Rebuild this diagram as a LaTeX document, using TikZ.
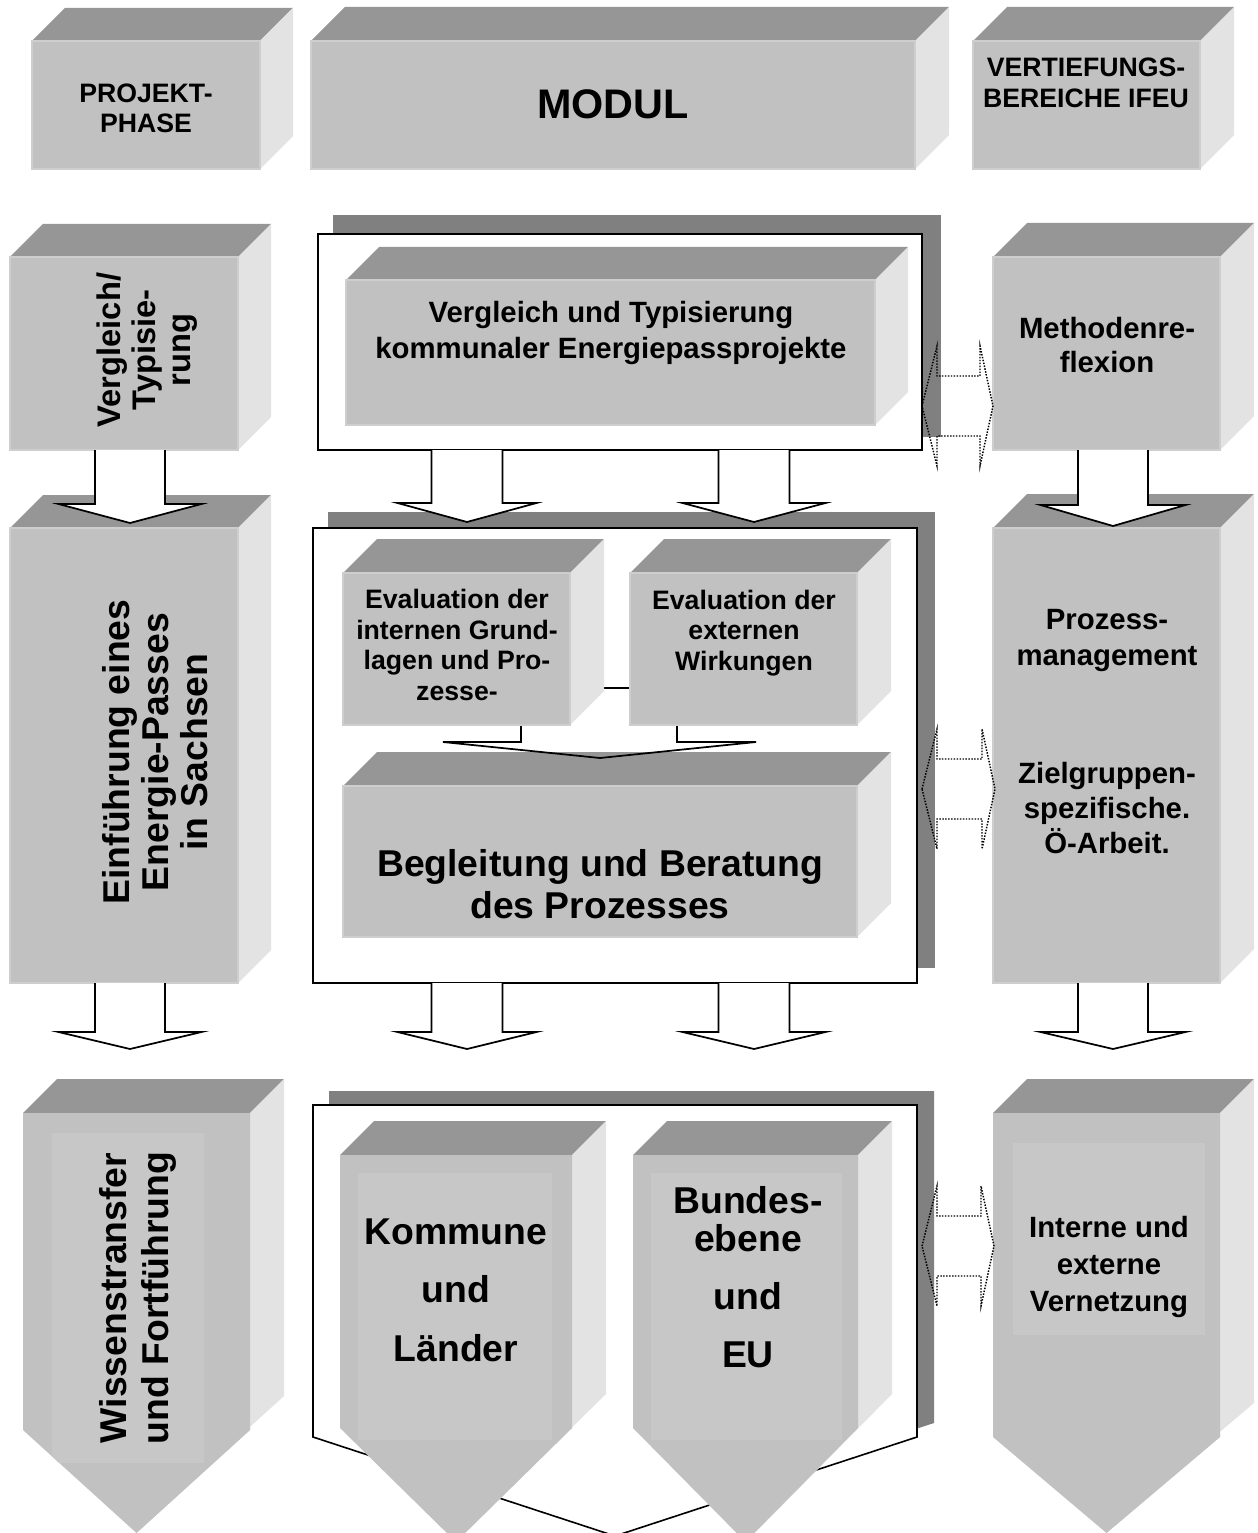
\documentclass[tikz,border=0pt]{standalone}
\usepackage{fontspec}
\setmainfont{Liberation Sans}
\usetikzlibrary{calc,fit}

\definecolor{facefront}{RGB}{193,193,193}
\definecolor{facetop}{RGB}{150,150,150}
\definecolor{faceside}{RGB}{227,227,227}
\definecolor{faceedge}{RGB}{206,206,206}
\definecolor{panelshadow}{RGB}{128,128,128}
\definecolor{panelinner}{RGB}{199,199,199}

\newcommand{\labelfont}[2]{\fontsize{#1}{#2}\selectfont\bfseries}

\tikzset{
  topface/.style={fill=facetop},
  sideface/.style={fill=faceside},
  frontface/.style={fill=facefront, draw=faceedge, line width=1.5pt, inner sep=0pt, outer sep=0pt},
  caption/.style={align=center, inner sep=0pt, text=black},
  whiteframe/.style={fill=white, draw=black, line width=1.2pt, inner sep=0pt, outer sep=0pt},
  frameshade/.style={fill=panelshadow},
  blockarrow/.style={fill=white, draw=black, line width=1.3pt, line join=miter},
  mergearrow/.style={draw=black, line width=1.3pt, line join=miter},
  exchange/.style={draw=black, line width=1.1pt, dash pattern=on 1.1pt off 1.1pt},
}

% rectangular 3D block: name, x1, y1, x2, y2 (front face), depth
\newcommand{\cubebox}[6]{%
  \fill[topface] (#2,#3) -- (#2+#6,#3-#6) -- (#4+#6,#3-#6) -- (#4,#3) -- cycle;
  \fill[sideface] (#4,#3) -- (#4+#6,#3-#6) -- (#4+#6,#5-#6) -- (#4,#5) -- cycle;
  \node[frontface, fit={(#2,#3) (#4,#5)}] (#1) {};
}

% 3D block with a pointed bottom: name, x1, y1, x2, shoulder y, tip y, depth
\newcommand{\arrowbox}[7]{%
  \fill[topface] (#2,#3) -- (#2+#7,#3-#7) -- (#4+#7,#3-#7) -- (#4,#3) -- cycle;
  \fill[sideface] (#4,#3) -- (#4+#7,#3-#7) -- (#4+#7,#5-#7)
        -- ({(#2+#4)/2+#7},#6-#7) -- ({(#2+#4)/2},#6) -- (#4,#5) -- cycle;
  \fill[facefront] (#2,#3) -- (#4,#3) -- (#4,#5) -- ({(#2+#4)/2},#6) -- (#2,#5) -- cycle;
  \node[fit={(#2,#3) (#4,#5)}, inner sep=0pt, outer sep=0pt] (#1) {};
}

% lighter panel inside a pointed block: x1, y1, x2, shoulder y, tip y, panel x1, y1, x2, y2
\newcommand{\innerpanel}[9]{%
  \begin{scope}
    \clip (#1,#2) -- (#3,#2) -- (#3,#4) -- ({(#1+#3)/2},#5) -- (#1,#4) -- cycle;
    \fill[panelinner] (#6,#7) rectangle (#8,#9);
  \end{scope}
}

% hollow block arrow pointing down: start anchor, axis offset, half shaft, half head, shaft length, head height
\newcommand{\blockdown}[6]{%
  \draw[blockarrow] ($#1+(#2-#3,0)$) -- ++(0,#5) -- ++(#3-#4,0) -- ++(#4,#6)
        -- ++(#4,-#6) -- ++(#3-#4,0) -- ++(0,-#5);
}

% dotted two-way arrow between two named points on one height
\newcommand{\twoway}[2]{%
  \draw[exchange]
    (#1) -- ($(#1)+(15,-60)$) -- ($(#1)+(15,-30)$) -- ($(#2)+(-13,-30)$) -- ($(#2)+(-13,-60)$)
    -- (#2) -- ($(#2)+(-13,60)$) -- ($(#2)+(-13,30)$) -- ($(#1)+(15,30)$) -- ($(#1)+(15,60)$) -- cycle;
}

\begin{document}
\begin{tikzpicture}[x=0.75pt, y=-0.75pt]
\useasboundingbox (0,0) rectangle (1257,1533);
\fill[white] (0,0) rectangle (1257,1533);

% ---------- header row ----------
\cubebox{phase}{32}{41}{260}{169}{33}
\cubebox{modul}{311}{41}{915}{169}{34}
\cubebox{ifeu}{973}{41}{1200}{169}{34}
\node[caption, font={\labelfont{20}{22.5}}] (phase-t) at (146,108) {PROJEKT-\\PHASE};
\node[caption, font={\labelfont{31}{36}}] (modul-t) at (613,104) {MODUL};
\node[caption, font={\labelfont{20}{23}}] (ifeu-t) at (1086,83) {VERTIEFUNGS-\\BEREICHE IFEU};

% ---------- first phase ----------
\cubebox{vgl}{10}{257}{238}{450}{33}
\node[caption, rotate=90, font={\labelfont{24.5}{26.5}}] (vgl-t) at (147,350) {Vergleich/\\Typisie-\\rung};

\fill[frameshade] (333,215) rectangle (941,437);
\node[whiteframe, fit={(318,234) (922,450)}] (frameA) {};
\cubebox{vt}{346}{280}{875}{425}{33}
\node[caption, font={\labelfont{22}{27}}] (vt-t) at (611,333) {Vergleich und Typisierung\\kommunaler Energiepassprojekte};

\cubebox{meth}{993}{257}{1220}{450}{34}
\node[caption, font={\labelfont{22}{26}}] (meth-t) at (1107,345) {Methodenre-\\flexion};

\coordinate (xA-l) at (922,406);
\coordinate (xA-r) at (993,406);
\twoway{xA-l}{xA-r}

% ---------- second phase ----------
\cubebox{einf}{10}{528}{238}{983}{33}
\node[caption, rotate=90, font={\labelfont{28}{29}}] (einf-t) at (155,752) {Einführung eines\\Energie-Passes\\in Sachsen};

\fill[frameshade] (328,512) rectangle (935,968);
\node[whiteframe, fit={(313,528) (917,983)}] (frameB) {};
\cubebox{begl}{343}{786}{857}{937}{34}
\draw[mergearrow] (521,688) -- (521,742) -- (443,742) -- (600,758) -- (756,742) -- (677,742) -- (677,688) -- cycle;
\cubebox{evi}{343}{573}{570}{725}{34}
\cubebox{eve}{630}{573}{857}{725}{34}
\node[caption, font={\labelfont{20}{23}}] (evi-t) at (457,645) {Evaluation der\\internen Grund-\\lagen und Pro-\\zesse-};
\node[caption, font={\labelfont{20}{23}}] (eve-t) at (744,633) {Evaluation der\\externen\\Wirkungen};
\node[caption, font={\labelfont{28}{32}}] (begl-t) at (600,884) {Begleitung und Beratung\\des Prozesses};

\cubebox{proz}{993}{528}{1220}{983}{34}
\node[caption, font={\labelfont{22}{26.5}}] (proz-t) at (1107,732) {Prozess-\\management\\[62pt]Zielgruppen-\\spezifische.\\Ö-Arbeit.};

\coordinate (xB-l) at (922,789);
\coordinate (xB-r) at (995,789);
\twoway{xB-l}{xB-r}

% arrows from the first to the second phase (heads lie over the blocks below)
\blockdown{(vgl.south)}{6}{35}{71.5}{54}{19}
\blockdown{(frameA.south)}{-153}{35.5}{69.5}{53}{19}
\blockdown{(frameA.south)}{134}{35.5}{71.5}{53}{19}
\blockdown{(meth.south)}{6.5}{35}{72.5}{55}{21}

% arrows from the second to the third phase
\blockdown{(einf.south)}{6}{35}{71.5}{49}{17}
\blockdown{(frameB.south)}{-148}{35.5}{69.5}{49}{17}
\blockdown{(frameB.south)}{139}{35.5}{71.5}{49}{17}
\blockdown{(proz.south)}{6.5}{35}{72.5}{49}{17}

% ---------- third phase ----------
\arrowbox{wiss}{23}{1113}{250}{1430}{1533}{34}
\innerpanel{23}{1113}{250}{1430}{1533}{52}{1133}{204}{1463}
\node[caption, rotate=90, font={\labelfont{28}{32}}] (wiss-t) at (138,1298) {Wissenstransfer\\und Fortführung};

\fill[frameshade] (329,1091) -- (934,1091) -- (934,1423) -- (631,1522) -- (329,1423) -- cycle;
\draw[whiteframe] (313,1105) -- (917,1105) -- (917,1437) -- (615,1536) -- (313,1437) -- cycle;
\node[fit={(313,1105) (917,1437)}, inner sep=0pt] (frameC) {};

\arrowbox{komm}{340}{1155}{572}{1428}{1542}{34}
\innerpanel{340}{1155}{572}{1428}{1542}{358}{1173}{552}{1440}
\arrowbox{bund}{633}{1155}{858}{1428}{1542}{34}
\innerpanel{633}{1155}{858}{1428}{1542}{651}{1173}{842}{1440}
\node[caption, font={\labelfont{28}{44}}] (komm-t) at (456,1290) {Kommune\\und\\Länder};
\node[caption, font={\labelfont{28}{28.5}}] (bund-t) at (748,1277) {Bundes-\\ebene\\[15pt]und\\[15pt]EU};

\arrowbox{netz}{993}{1113}{1220}{1437}{1533}{34}
\innerpanel{993}{1113}{1220}{1437}{1533}{1013}{1143}{1205}{1335}
\node[caption, font={\labelfont{22}{28}}] (netz-t) at (1109,1267) {Interne und\\externe\\Vernetzung};

\coordinate (xC-l) at (922,1246);
\coordinate (xC-r) at (994,1246);
\twoway{xC-l}{xC-r}
\end{tikzpicture}
\end{document}
